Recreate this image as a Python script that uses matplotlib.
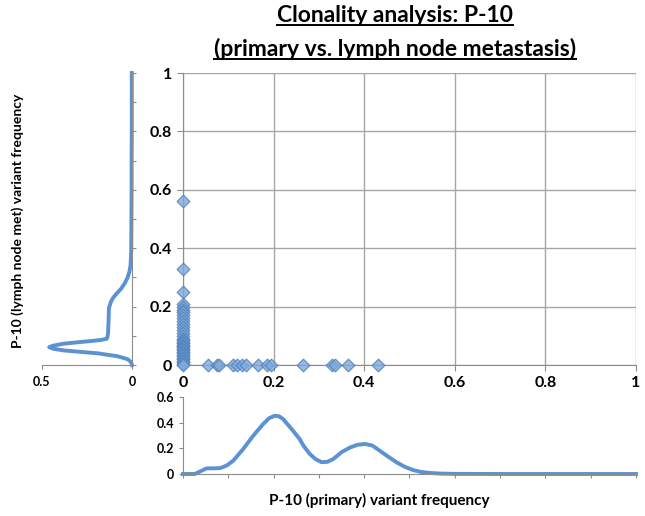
import matplotlib
matplotlib.use('Agg')
import matplotlib.pyplot as plt
from matplotlib.lines import Line2D

plt.rcParams['font.family'] = ['Lato', 'DejaVu Sans']
plt.rcParams['font.weight'] = 'bold'

# scatter: primary vs lymph node met variant frequencies
met_only_y = [0.56, 0.33, 0.25, 0.21, 0.20, 0.19, 0.18, 0.17, 0.16, 0.15, 0.14,
              0.13, 0.12, 0.11, 0.10, 0.09, 0.085, 0.08, 0.075, 0.07, 0.065,
              0.06, 0.055, 0.05, 0.045, 0.04, 0.035, 0.03, 0.025, 0.02, 0.015,
              0.01, 0.005, 0.0]
primary_only_x = [0.055, 0.075, 0.08, 0.11, 0.12, 0.13, 0.14, 0.165, 0.185,
                  0.195, 0.265, 0.33, 0.335, 0.365, 0.43]

# density of met frequencies (left panel)
met_dens_y = [0.0, 0.01, 0.02, 0.03, 0.04, 0.05, 0.056, 0.061, 0.066, 0.073,
              0.078, 0.082, 0.086, 0.09, 0.1, 0.11, 0.15, 0.195, 0.215, 0.23,
              0.245, 0.26, 0.28, 0.30, 0.32, 0.34, 0.39, 0.5, 0.6, 0.7, 0.8,
              0.9, 1.0]
met_dens_x = [0.0, 0.005, 0.024, 0.08, 0.19, 0.38, 0.44, 0.46, 0.44, 0.38,
              0.3, 0.23, 0.17, 0.14, 0.135, 0.133, 0.13, 0.128, 0.118, 0.105,
              0.085, 0.062, 0.04, 0.024, 0.014, 0.008, 0.004, 0.003, 0.002,
              0.002, 0.001, 0.001, 0.001]

# density of primary frequencies (bottom panel)
prim_dens_x = [0.0, 0.026, 0.038, 0.052, 0.067, 0.082, 0.096, 0.111, 0.133,
               0.155, 0.177, 0.19, 0.203, 0.212, 0.221, 0.243, 0.258, 0.266,
               0.28, 0.293, 0.306, 0.319, 0.332, 0.35, 0.369, 0.386, 0.402,
               0.418, 0.435, 0.453, 0.472, 0.49, 0.508, 0.525, 0.545, 0.57,
               0.6, 0.7, 0.8, 0.9, 1.0]
prim_dens_y = [0.0, 0.0, 0.02, 0.044, 0.044, 0.046, 0.065, 0.104, 0.195,
               0.298, 0.389, 0.435, 0.454, 0.45, 0.428, 0.337, 0.27, 0.22,
               0.156, 0.115, 0.092, 0.095, 0.117, 0.17, 0.207, 0.228, 0.234,
               0.222, 0.18, 0.135, 0.09, 0.055, 0.031, 0.016, 0.008, 0.003,
               0.001, 0.0, 0.0, 0.0, 0.0]

line_col = '#5A92D2'
grid_col = '#A6A6A6'

fig = plt.figure(figsize=(6.45, 5.16), dpi=100)
ax = fig.add_axes([0.2837, 0.2926, 0.7023, 0.5659])
axl = fig.add_axes([0.0651, 0.2926, 0.1395, 0.5659])
axb = fig.add_axes([0.2837, 0.0814, 0.7023, 0.1492])

# main scatter
ax.scatter([0.0] * len(met_only_y), met_only_y, marker='D', s=42,
           facecolor='#7FA9D8', edgecolor='#4F81BD', linewidth=0.9, alpha=0.8, zorder=3, clip_on=False)
ax.scatter(primary_only_x, [0.0] * len(primary_only_x), marker='D', s=42,
           facecolor='#7FA9D8', edgecolor='#4F81BD', linewidth=0.9, alpha=0.8, zorder=3, clip_on=False)
ax.set_xlim(0, 1)
ax.set_ylim(0, 1)
ticks = [0, 0.2, 0.4, 0.6, 0.8, 1]
labels = ['0', '0.2', '0.4', '0.6', '0.8', '1']
ax.set_xticks(ticks)
ax.set_xticklabels(labels)
ax.set_yticks(ticks)
ax.set_yticklabels(labels)
ax.grid(True, color=grid_col, linewidth=1)
ax.set_axisbelow(True)
for s in ['top', 'right']:
    ax.spines[s].set_visible(False)
for s in ['left', 'bottom']:
    ax.spines[s].set_color('#8C8C8C')
ax.tick_params(length=4, color='#8C8C8C', labelsize=11.5, pad=4)

# left density
axl.plot(met_dens_x, met_dens_y, color=line_col, linewidth=2.8, clip_on=False)
axl.set_xlim(0.5, 0)
axl.set_ylim(0, 1)
axl.set_xticks([0.5, 0])
axl.set_xticklabels(['0.5', '0'])
axl.set_yticks([i / 10 for i in range(11)])
axl.yaxis.tick_right()
axl.tick_params(axis='y', labelright=False, length=3, color='#8C8C8C')
axl.tick_params(axis='x', length=3, color='#8C8C8C', labelsize=9, pad=5)
for s in ['top', 'left']:
    axl.spines[s].set_visible(False)
for s in ['right', 'bottom']:
    axl.spines[s].set_color('#8C8C8C')
fig.text(0.028, 0.572, 'P-10 (lymph node met) variant frequency', rotation=90,
         ha='center', va='center', fontsize=10, fontweight='bold')

# bottom density
axb.plot(prim_dens_x, prim_dens_y, color=line_col, linewidth=2.8, clip_on=False)
axb.set_xlim(0, 1)
axb.set_ylim(0, 0.6)
axb.set_xticks([i / 10 for i in range(11)])
axb.tick_params(axis='x', labelbottom=False, length=3, color='#8C8C8C')
axb.set_yticks([0, 0.2, 0.4, 0.6])
axb.set_yticklabels(['0', '0.2', '0.4', '0.6'])
axb.tick_params(axis='y', length=3, color='#8C8C8C', labelsize=9)
for s in ['top', 'right']:
    axb.spines[s].set_visible(False)
for s in ['left', 'bottom']:
    axb.spines[s].set_color('#8C8C8C')
fig.text(0.588, 0.031, 'P-10 (primary) variant frequency', ha='center', va='center',
         fontsize=11, fontweight='bold')

# underlined title
t1 = fig.text(0.612, 0.969, 'Clonality analysis: P-10', ha='center', va='center', fontsize=16.5, fontweight='bold')
t2 = fig.text(0.612, 0.906, '(primary vs. lymph node metastasis)', ha='center', va='center', fontsize=16.5, fontweight='bold')
fig.canvas.draw()
r = fig.canvas.get_renderer()
for t in (t1, t2):
    bb = t.get_window_extent(r).transformed(fig.transFigure.inverted())
    fig.add_artist(Line2D([bb.x0, bb.x1], [bb.y0 + 0.002, bb.y0 + 0.002],
                          transform=fig.transFigure, color='black', linewidth=1.4))

fig.savefig('out.png', dpi=100)
